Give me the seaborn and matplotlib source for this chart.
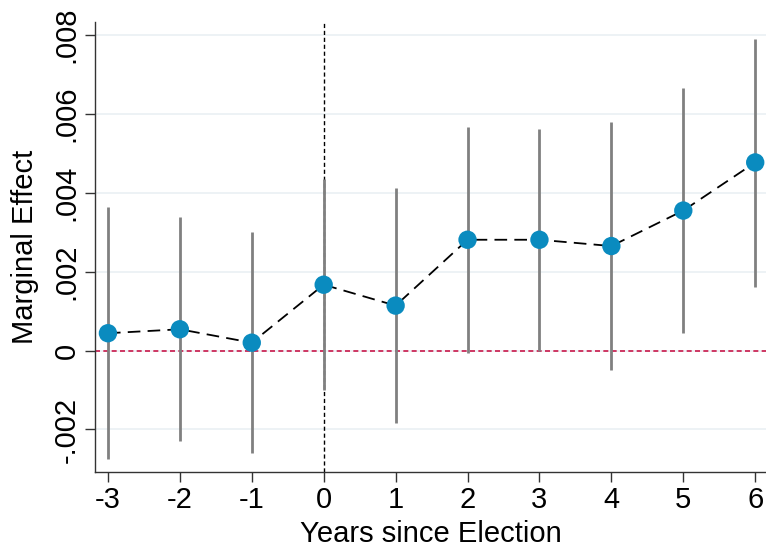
import numpy as np
import pandas as pd
import matplotlib
matplotlib.use("Agg")
import matplotlib.pyplot as plt
import seaborn as sns

years = [-3, -2, -1, 0, 1, 2, 3, 4, 5, 6]
effect = [0.00044, 0.00054, 0.00020, 0.00167, 0.00114, 0.00281, 0.00281, 0.00265, 0.00355, 0.00477]
ci_low = [-0.00275, -0.00229, -0.00260, -0.00100, -0.00183, -0.00007, -0.00002, -0.00049, 0.00044, 0.00161]
ci_high = [0.00364, 0.00338, 0.00300, 0.00434, 0.00412, 0.00566, 0.00561, 0.00579, 0.00665, 0.00790]
ytick_vals = [-0.002, 0, 0.002, 0.004, 0.006, 0.008]
ytick_labels = ["-.002", "0", ".002", ".004", ".006", ".008"]

df = pd.DataFrame({"year": years, "effect": effect, "lo": ci_low, "hi": ci_high})

sns.set_style("white")
plt.rcParams["font.family"] = ["Liberation Sans", "DejaVu Sans"]
plt.rcParams["text.color"] = "black"
plt.rcParams["axes.labelcolor"] = "black"
plt.rcParams["xtick.color"] = "black"
plt.rcParams["ytick.color"] = "black"

fig = plt.figure(figsize=(7.66, 5.51), dpi=100)
ax = fig.add_axes([0.124, 0.144, 0.876, 0.816])

ax.grid(axis="y", color="#eaf0f3", linewidth=1.2)
ax.set_axisbelow(True)

ax.axhline(0, color="#c8174a", linestyle=(0, (3, 2)), linewidth=1.2, zorder=1)
ax.axvline(0, color="black", linestyle=(0, (3, 2)), linewidth=1.0, zorder=1)

ax.vlines(df["year"], df["lo"], df["hi"], color="#808080", linewidth=2.0, zorder=2)
sns.lineplot(data=df, x="year", y="effect", color="black", linewidth=1.3,
             linestyle=(0, (7, 4)), ax=ax, zorder=3)
sns.scatterplot(data=df, x="year", y="effect", color="#0a8bbf", s=175,
                edgecolor="none", ax=ax, zorder=4)

ax.set_xlim(-3.18, 6.15)
ax.set_ylim(-0.00307, 0.00833)
ax.set_xticks(years)
ax.set_xticklabels([str(y) for y in years])
ax.set_yticks(ytick_vals)
ax.set_yticklabels(ytick_labels, rotation=90, va="center")

ax.tick_params(axis="both", labelsize=21, length=7, width=1, color="#333333",
               labelcolor="black", direction="out", left=True, bottom=True)
ax.set_xlabel("Years since Election", fontsize=21, labelpad=4)
ax.set_ylabel("Marginal Effect", fontsize=21, labelpad=10)

for s in ["top", "right"]:
    ax.spines[s].set_visible(False)
for s in ["left", "bottom"]:
    ax.spines[s].set_color("#333333")
    ax.spines[s].set_linewidth(1.0)

fig.savefig("out.png", dpi=100)
